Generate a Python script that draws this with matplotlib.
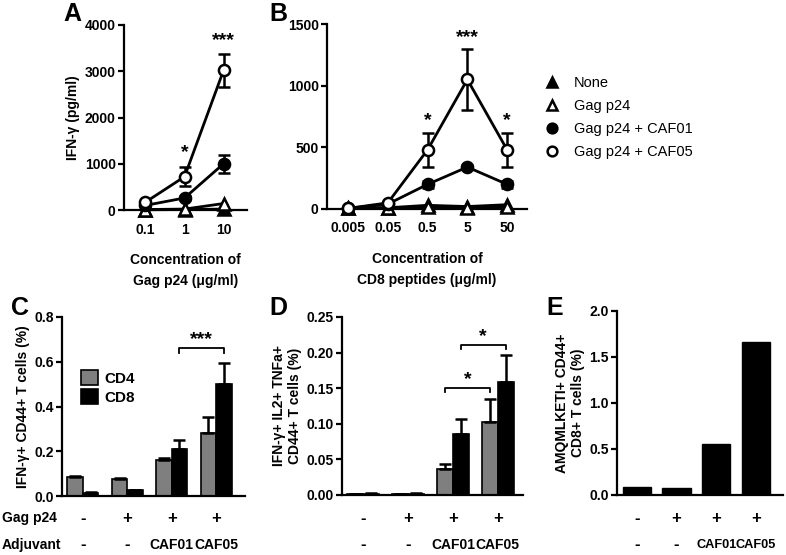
import matplotlib
matplotlib.use("Agg")
import matplotlib.pyplot as plt
import numpy as np
from matplotlib.lines import Line2D
from matplotlib.transforms import blended_transform_factory

plt.rcParams['font.family'] = ['Liberation Sans', 'DejaVu Sans']
plt.rcParams['font.weight'] = 'bold'
plt.rcParams['axes.labelweight'] = 'bold'
plt.rcParams['axes.linewidth'] = 1.6

# Panel A - IFN-gamma vs Gag p24 concentration
conc_a = ['0.1', '1', '10']
a_none = [5, 10, 20]
a_gag = [10, 20, 140]
a_caf01 = [100, 260, 1000]
a_caf01_err = [20, 40, 200]
a_caf05 = [170, 720, 3020]
a_caf05_err = [30, 200, 350]

# Panel B - IFN-gamma vs CD8 peptide concentration
conc_b = ['0.005', '0.05', '0.5', '5', '50']
b_none = [10, 10, 30, 20, 35]
b_gag = [5, 10, 15, 10, 15]
b_caf01 = [5, 40, 200, 340, 200]
b_caf01_err = [5, 10, 30, 15, 30]
b_caf05 = [5, 50, 480, 1050, 480]
b_caf05_err = [5, 10, 140, 245, 140]

# Panels C-E - groups
gag_row = ['-', '+', '+', '+']
adj_row = ['-', '-', 'CAF01', 'CAF05']

c_cd4 = [0.085, 0.075, 0.162, 0.283]
c_cd4_err = [0.006, 0.006, 0.01, 0.072]
c_cd8 = [0.015, 0.025, 0.209, 0.499]
c_cd8_err = [0.003, 0.003, 0.04, 0.097]

d_cd4 = [0.001, 0.001, 0.037, 0.103]
d_cd4_err = [0.0005, 0.0005, 0.007, 0.032]
d_cd8 = [0.002, 0.002, 0.086, 0.159]
d_cd8_err = [0.0005, 0.0005, 0.021, 0.037]

e_cd8 = [0.083, 0.072, 0.55, 1.66]

W, H = 786, 555
FS = 10
fig = plt.figure(figsize=(W / 100, H / 100), dpi=100)


def add_axes_px(left, right, bottom, top):
    return fig.add_axes([left / W, 1 - bottom / H, (right - left) / W, (bottom - top) / H])


def style(ax):
    ax.spines['top'].set_visible(False)
    ax.spines['right'].set_visible(False)
    ax.tick_params(axis='y', direction='out', length=4, width=1.6, labelsize=FS, pad=2)
    ax.tick_params(axis='x', length=0, labelsize=FS, pad=9)
    plt.setp(ax.get_yticklabels() + ax.get_xticklabels(), fontweight='bold')


def line_series(ax, x, y, err, marker, face):
    ax.errorbar(x, y, yerr=err, color='black', lw=2, marker=marker, ms=8,
                mfc=face, mec='black', mew=1.8, capsize=4, capthick=1.8,
                elinewidth=1.8, clip_on=False, zorder=3)


# ---- Panel A ----
axA = add_axes_px(124, 247, 210, 25)
xa = np.arange(len(conc_a))
line_series(axA, xa, a_none, None, '^', 'black')
line_series(axA, xa, a_gag, None, '^', 'white')
line_series(axA, xa, a_caf01, a_caf01_err, 'o', 'black')
line_series(axA, xa, a_caf05, a_caf05_err, 'o', 'white')
axA.set_xlim(-0.55, 2.6)
axA.set_ylim(0, 4000)
axA.set_yticks([0, 1000, 2000, 3000, 4000])
axA.set_xticks(xa)
axA.set_xticklabels(conc_a)
style(axA)
axA.set_ylabel('IFN-γ (pg/ml)', fontsize=FS, labelpad=3)
axA.set_xlabel('Concentration of\nGag p24 (μg/ml)', fontsize=FS, labelpad=12, linespacing=1.6)
axA.text(1, 1050, '*', ha='center', va='bottom', fontsize=14)
axA.text(2, 3480, '***', ha='center', va='bottom', fontsize=14)

# ---- Panel B ----
axB = add_axes_px(327, 527, 209, 24)
xb = np.arange(len(conc_b))
line_series(axB, xb, b_none, None, '^', 'black')
line_series(axB, xb, b_gag, None, '^', 'white')
line_series(axB, xb, b_caf01, b_caf01_err, 'o', 'black')
line_series(axB, xb, b_caf05, b_caf05_err, 'o', 'white')
axB.set_xlim(-0.53, 4.5)
axB.set_ylim(0, 1500)
axB.set_yticks([0, 500, 1000, 1500])
axB.set_xticks(xb)
axB.set_xticklabels(conc_b)
style(axB)
axB.set_xlabel('Concentration of\nCD8 peptides (μg/ml)', fontsize=FS, labelpad=12, linespacing=1.6)
axB.text(2, 650, '*', ha='center', va='bottom', fontsize=14)
axB.text(3, 1320, '***', ha='center', va='bottom', fontsize=14)
axB.text(4, 650, '*', ha='center', va='bottom', fontsize=14)

# legend for A/B
handles = [
    Line2D([], [], ls='none', marker='^', ms=7, mfc='black', mec='black', mew=1.8),
    Line2D([], [], ls='none', marker='^', ms=7, mfc='white', mec='black', mew=1.8),
    Line2D([], [], ls='none', marker='o', ms=7, mfc='black', mec='black', mew=1.8),
    Line2D([], [], ls='none', marker='o', ms=7, mfc='white', mec='black', mew=1.8),
]
labels = ['None', 'Gag p24', 'Gag p24 + CAF01', 'Gag p24 + CAF05']
fig.legend(handles, labels, loc='upper left', bbox_to_anchor=(530 / W, 1 - 63 / H),
           frameon=False, handlelength=1.2, handletextpad=0.9, labelspacing=0.62,
           prop={'weight': 'normal', 'size': 10.5})


def group_rows(ax, show_titles, adj_fs=FS):
    tr = blended_transform_factory(ax.transData, fig.transFigure)
    for i, (g, a) in enumerate(zip(gag_row, adj_row)):
        ax.text(i, 1 - 518 / H, g, transform=tr, ha='center', va='center', fontsize=12)
        ax.text(i, 1 - 545 / H, a, transform=tr, ha='center', va='center',
                fontsize=12 if a == '-' else adj_fs)
    if show_titles:
        fig.text(2 / W, 1 - 518 / H, 'Gag p24', ha='left', va='center', fontsize=FS)
        fig.text(2 / W, 1 - 545 / H, 'Adjuvant', ha='left', va='center', fontsize=FS)


def bracket(ax, x0, x1, y, h, text):
    ax.plot([x0, x0, x1, x1], [y - h, y, y, y - h], color='black', lw=1.3, clip_on=False)
    ax.text((x0 + x1) / 2, y, text, ha='center', va='bottom', fontsize=14)


bw = 0.35
xg = np.arange(4)

# ---- Panel C ----
axC = add_axes_px(62, 245, 496, 317)
axC.bar(xg - bw / 2, c_cd4, bw, color='#7f7f7f', edgecolor='black', lw=1.2,
        yerr=[np.zeros(4), c_cd4_err], capsize=4,
        error_kw={'elinewidth': 1.8, 'capthick': 1.8}, label='CD4')
axC.bar(xg + bw / 2, c_cd8, bw, color='black', edgecolor='black', lw=1.2,
        yerr=[np.zeros(4), c_cd8_err], capsize=4,
        error_kw={'elinewidth': 1.8, 'capthick': 1.8}, label='CD8')
axC.set_xlim(-0.47, 3.65)
axC.set_ylim(0, 0.8)
axC.set_yticks([0, 0.2, 0.4, 0.6, 0.8])
axC.set_yticklabels(['0.0', '0.2', '0.4', '0.6', '0.8'])
axC.set_xticks([])
style(axC)
axC.set_ylabel('IFN-γ+ CD44+ T cells (%)', fontsize=FS, labelpad=3)
axC.legend(loc='upper left', bbox_to_anchor=(0.03, 0.78), frameon=False,
           handlelength=1.1, handleheight=1.1, handletextpad=0.4, labelspacing=0.25,
           prop={'weight': 'bold', 'size': 11})
bracket(axC, 2 + bw / 2, 3 + bw / 2, 0.66, 0.02, '***')
group_rows(axC, True)

# ---- Panel D ----
axD = add_axes_px(342, 523, 495, 317)
axD.bar(xg - bw / 2, d_cd4, bw, color='#7f7f7f', edgecolor='black', lw=1.2,
        yerr=[np.zeros(4), d_cd4_err], capsize=4,
        error_kw={'elinewidth': 1.8, 'capthick': 1.8})
axD.bar(xg + bw / 2, d_cd8, bw, color='black', edgecolor='black', lw=1.2,
        yerr=[np.zeros(4), d_cd8_err], capsize=4,
        error_kw={'elinewidth': 1.8, 'capthick': 1.8})
axD.set_xlim(-0.47, 3.56)
axD.set_ylim(0, 0.25)
axD.set_yticks([0, 0.05, 0.10, 0.15, 0.20, 0.25])
axD.set_yticklabels(['0.00', '0.05', '0.10', '0.15', '0.20', '0.25'])
axD.set_xticks([])
style(axD)
axD.set_ylabel('IFN-γ+ IL2+ TNFa+\nCD44+ T cells (%)', fontsize=FS, labelpad=3)
bracket(axD, 2 - bw / 2, 3 - bw / 2, 0.15, 0.006, '*')
bracket(axD, 2 + bw / 2, 3 + bw / 2, 0.211, 0.006, '*')
group_rows(axD, False)

# ---- Panel E ----
axE = add_axes_px(617, 783, 495, 311)
axE.bar(xg, e_cd8, 0.71, color='black', edgecolor='black')
axE.set_xlim(-0.5, 3.68)
axE.set_ylim(0, 2.0)
axE.set_yticks([0, 0.5, 1.0, 1.5, 2.0])
axE.set_yticklabels(['0.0', '0.5', '1.0', '1.5', '2.0'])
axE.set_xticks([])
style(axE)
axE.set_ylabel('AMQMLKETI+ CD44+\nCD8+ T cells (%)', fontsize=FS, labelpad=3)
group_rows(axE, False, adj_fs=9.2)

# panel letters
for letter, (px, py) in zip('ABCDE', [(72, 14), (278, 14), (20, 308), (278, 308), (555, 308)]):
    fig.text(px / W, 1 - py / H, letter, ha='center', va='center', fontsize=18, weight='bold')

fig.savefig('out.png', dpi=100)
